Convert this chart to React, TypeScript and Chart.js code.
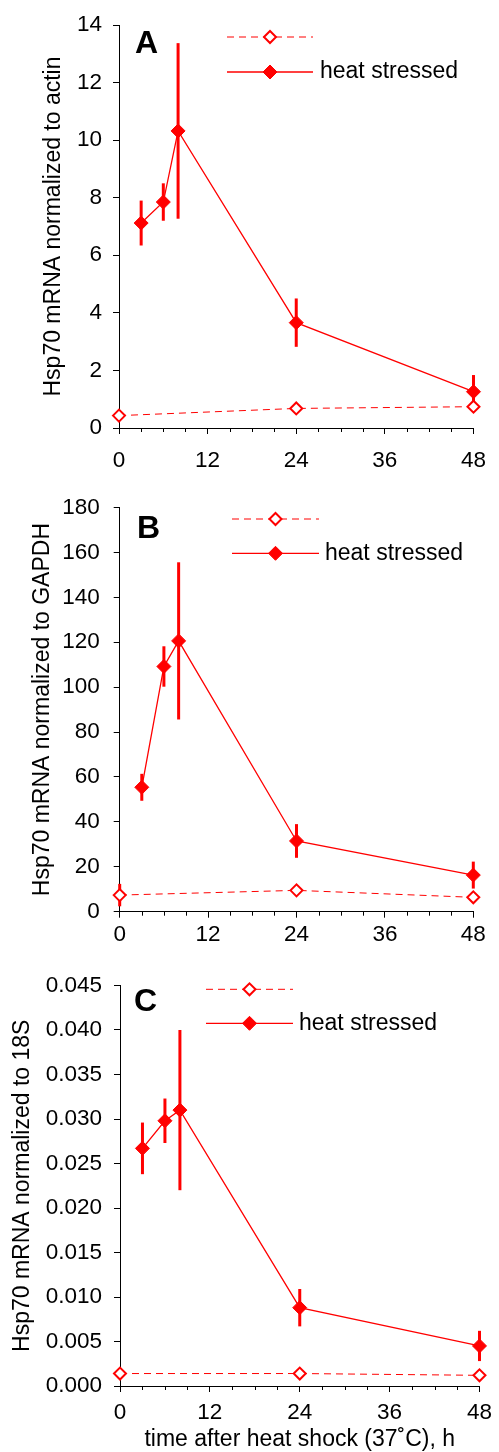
import React, { useEffect, useRef } from 'react';
import { Chart, registerables } from 'chart.js';

Chart.register(...registerables);

// ---------- data ----------
const heatTimes = [3, 6, 8, 24, 48];
const controlTimes = [0, 24, 48];

const heatA = [7.12, 7.85, 10.32, 3.66, 1.26];
const heatAErr = [0.78, 0.65, 3.05, 0.84, 0.58];
const controlA = [0.43, 0.68, 0.74];
const controlAErr = [0, 0, 0];

const heatB = [55.4, 109.2, 120.6, 31.5, 16.3];
const heatBErr = [6, 9, 35, 7.5, 6];
const controlB = [7.4, 9.5, 6.4];
const controlBErr = [5, 0, 0];

const heatC = [0.0267, 0.0298, 0.031, 0.0088, 0.0045];
const heatCErr = [0.0029, 0.0025, 0.009, 0.0021, 0.0017];
const controlC = [0.0014, 0.0014, 0.0012];
const controlCErr = [0, 0, 0];

const heatLabel = 'heat stressed';
const controlLabel = '';
const xTitle = 'time after heat shock (37˚C), h';
const yTitleA = 'Hsp70 mRNA normalized to actin';
const yTitleB = 'Hsp70 mRNA normalized to GAPDH';
const yTitleC = 'Hsp70 mRNA normalized to 18S';

const xMin = 0;
const xMax = 48;
const xMajorStep = 12;
const xMinorStep = 3;

const RED = '#ff0000';
const FONT = '"Liberation Sans", Arial, Helvetica, sans-serif';

// ---------- plugins ----------
const errorBarPlugin = {
  id: 'errorBars',
  beforeDatasetsDraw(chart: any) {
    const ctx = chart.ctx;
    const xs = chart.scales.x;
    const ys = chart.scales.y;
    chart.data.datasets.forEach((ds: any) => {
      const errs: number[] = ds.errors || [];
      ds.data.forEach((p: any, i: number) => {
        const e = errs[i];
        if (!e) return;
        const px = xs.getPixelForValue(p.x);
        const y1 = ys.getPixelForValue(p.y + e);
        const y2 = ys.getPixelForValue(p.y - e);
        ctx.save();
        ctx.strokeStyle = ds.borderColor;
        ctx.lineWidth = 3;
        ctx.beginPath();
        ctx.moveTo(px, y1);
        ctx.lineTo(px, y2);
        ctx.stroke();
        ctx.restore();
      });
    });
  },
};

const minorTickPlugin = {
  id: 'minorTicks',
  afterDraw(chart: any) {
    const ctx = chart.ctx;
    const xs = chart.scales.x;
    const y0 = chart.chartArea.bottom;
    ctx.save();
    ctx.strokeStyle = '#000';
    ctx.lineWidth = 1;
    for (let v = xMin; v <= xMax; v += xMinorStep) {
      if (v % xMajorStep === 0) continue;
      const px = Math.round(xs.getPixelForValue(v)) + 0.5;
      ctx.beginPath();
      ctx.moveTo(px, y0);
      ctx.lineTo(px, y0 + 4);
      ctx.stroke();
    }
    ctx.restore();
  },
};

function drawDiamond(ctx: any, x: number, y: number, r: number, fill: string, stroke: string, lw: number) {
  ctx.beginPath();
  ctx.moveTo(x - r, y);
  ctx.lineTo(x, y - r);
  ctx.lineTo(x + r, y);
  ctx.lineTo(x, y + r);
  ctx.closePath();
  ctx.fillStyle = fill;
  ctx.fill();
  ctx.lineWidth = lw;
  ctx.strokeStyle = stroke;
  ctx.stroke();
}

const decorPlugin = {
  id: 'decor',
  afterDraw(chart: any, _args: any, opts: any) {
    const ctx = chart.ctx;
    ctx.save();
    // panel letter
    ctx.fillStyle = '#000';
    ctx.font = `bold ${opts.letterSize}px ${FONT}`;
    ctx.textAlign = 'left';
    ctx.textBaseline = 'alphabetic';
    ctx.fillText(opts.letter, opts.letterX, opts.letterY);
    // legend
    chart.data.datasets.forEach((ds: any, i: number) => {
      const y = opts.legendY + i * opts.legendGap;
      ctx.save();
      ctx.strokeStyle = ds.borderColor;
      ctx.lineWidth = ds.borderWidth;
      ctx.setLineDash(ds.borderDash || []);
      ctx.beginPath();
      ctx.moveTo(opts.legendX1, y);
      ctx.lineTo(opts.legendX2, y);
      ctx.stroke();
      ctx.setLineDash([]);
      drawDiamond(ctx, (opts.legendX1 + opts.legendX2) / 2, y, ds.pointRadius, ds.pointBackgroundColor, ds.pointBorderColor, ds.pointBorderWidth);
      ctx.restore();
      if (ds.label) {
        ctx.fillStyle = '#000';
        ctx.font = `23px ${FONT}`;
        ctx.textAlign = 'left';
        ctx.textBaseline = 'middle';
        ctx.fillText(ds.label, opts.textX, y);
      }
    });
    ctx.restore();
  },
};

// ---------- chart factory ----------
type PanelCfg = {
  height: number;
  heat: number[];
  heatErr: number[];
  control: number[];
  controlErr: number[];
  yMax: number;
  yStep: number;
  yDecimals: number;
  yTitle: string;
  yTitlePad: number;
  yWidth: number;
  yTickPad: number;
  padTop: number;
  padRight: number;
  xHeight: number;
  xTickPad: number;
  showXTitle: boolean;
  decor: any;
};

function buildConfig(c: PanelCfg): any {
  const controlDs = {
    label: controlLabel,
    data: controlTimes.map((t, i) => ({ x: t, y: c.control[i] })),
    errors: c.controlErr,
    borderColor: RED,
    borderWidth: 1,
    borderDash: [7, 5],
    pointStyle: 'rectRot',
    pointRadius: 6,
    pointBorderWidth: 2,
    pointBorderColor: RED,
    pointBackgroundColor: '#ffffff',
    tension: 0,
    clip: false,
  };
  const heatDs = {
    label: heatLabel,
    data: heatTimes.map((t, i) => ({ x: t, y: c.heat[i] })),
    errors: c.heatErr,
    borderColor: RED,
    borderWidth: 1.3,
    pointStyle: 'rectRot',
    pointRadius: 7,
    pointBorderWidth: 1,
    pointBorderColor: RED,
    pointBackgroundColor: RED,
    tension: 0,
    clip: false,
  };
  return {
    type: 'line',
    data: { datasets: [controlDs, heatDs] },
    options: {
      animation: false,
      responsive: false,
      devicePixelRatio: 1,
      layout: { autoPadding: false, padding: { top: c.padTop, right: c.padRight, left: 0, bottom: 0 } },
      plugins: {
        legend: { display: false },
        tooltip: { enabled: false },
        decor: c.decor,
      },
      scales: {
        x: {
          type: 'linear',
          min: xMin,
          max: xMax,
          ticks: { stepSize: xMajorStep, color: '#000', font: { family: FONT, size: 22.5 }, padding: c.xTickPad, maxRotation: 0 },
          grid: { drawOnChartArea: false, tickLength: 6, tickColor: '#000', tickWidth: 1 },
          border: { color: '#000', width: 1 },
          title: {
            display: c.showXTitle,
            text: xTitle,
            color: '#000',
            font: { family: FONT, size: 23, lineHeight: 1 },
            padding: { top: 0, bottom: 0.5 },
          },
          afterFit: (s: any) => { s.height = c.xHeight; },
        },
        y: {
          min: 0,
          max: c.yMax,
          ticks: {
            stepSize: c.yStep,
            color: '#000',
            font: { family: FONT, size: 22.5 },
            padding: c.yTickPad,
            callback: (v: any) => Number(v).toFixed(c.yDecimals),
          },
          grid: { drawOnChartArea: false, tickLength: 6, tickColor: '#000', tickWidth: 1 },
          border: { color: '#000', width: 1 },
          title: {
            display: true,
            text: c.yTitle,
            color: '#000',
            font: { family: FONT, size: 23 },
            padding: { top: c.yTitlePad, bottom: 0 },
          },
          afterFit: (s: any) => { s.width = c.yWidth; },
        },
      },
    },
    plugins: [errorBarPlugin, minorTickPlugin, decorPlugin],
  };
}

const panels: { top: number; cfg: PanelCfg }[] = [
  {
    top: 0,
    cfg: {
      height: 480,
      heat: heatA, heatErr: heatAErr, control: controlA, controlErr: controlAErr,
      yMax: 14, yStep: 2, yDecimals: 0,
      yTitle: yTitleA, yTitlePad: 40,
      yWidth: 119, yTickPad: 11,
      padTop: 25, padRight: 13,
      xHeight: 52, xTickPad: 13, showXTitle: false,
      decor: { letter: 'A', letterSize: 32, letterX: 135, letterY: 53, legendX1: 227, legendX2: 313, legendY: 37, legendGap: 35, textX: 320 },
    },
  },
  {
    top: 480,
    cfg: {
      height: 480,
      heat: heatB, heatErr: heatBErr, control: controlB, controlErr: controlBErr,
      yMax: 180, yStep: 20, yDecimals: 0,
      yTitle: yTitleB, yTitlePad: 29,
      yWidth: 119.7, yTickPad: 14,
      padTop: 25.7, padRight: 25.7,
      xHeight: 48.3, xTickPad: 4, showXTitle: false,
      decor: { letter: 'B', letterSize: 32, letterX: 137, letterY: 58.3, legendX1: 232, legendX2: 319, legendY: 39, legendGap: 34.3, textX: 325 },
    },
  },
  {
    top: 960,
    cfg: {
      height: 492,
      heat: heatC, heatErr: heatCErr, control: controlC, controlErr: controlCErr,
      yMax: 0.045, yStep: 0.005, yDecimals: 3,
      yTitle: yTitleC, yTitlePad: 9,
      yWidth: 120, yTickPad: 12,
      padTop: 18.3, padRight: 17.3,
      xHeight: 66, xTickPad: 7, showXTitle: true,
      decor: { letter: 'C', letterSize: 32, letterX: 134, letterY: 51, legendX1: 206, legendX2: 293, legendY: 29.3, legendGap: 34, textX: 299 },
    },
  },
];

function Panel({ top, cfg }: { top: number; cfg: PanelCfg }) {
  const ref = useRef<HTMLCanvasElement | null>(null);
  useEffect(() => {
    if (!ref.current) return;
    const chart = new Chart(ref.current, buildConfig(cfg));
    return () => chart.destroy();
  }, []);
  return (
    <canvas
      ref={ref}
      width={499}
      height={cfg.height}
      style={{ position: 'absolute', left: 0, top, width: 499, height: cfg.height, display: 'block' }}
    />
  );
}

export default function App() {
  return (
    <div style={{ position: 'absolute', left: 0, top: 0, width: 499, height: 1452, background: '#fff', overflow: 'hidden' }}>
      {panels.map((p, i) => (
        <Panel key={i} top={p.top} cfg={p.cfg} />
      ))}
    </div>
  );
}
